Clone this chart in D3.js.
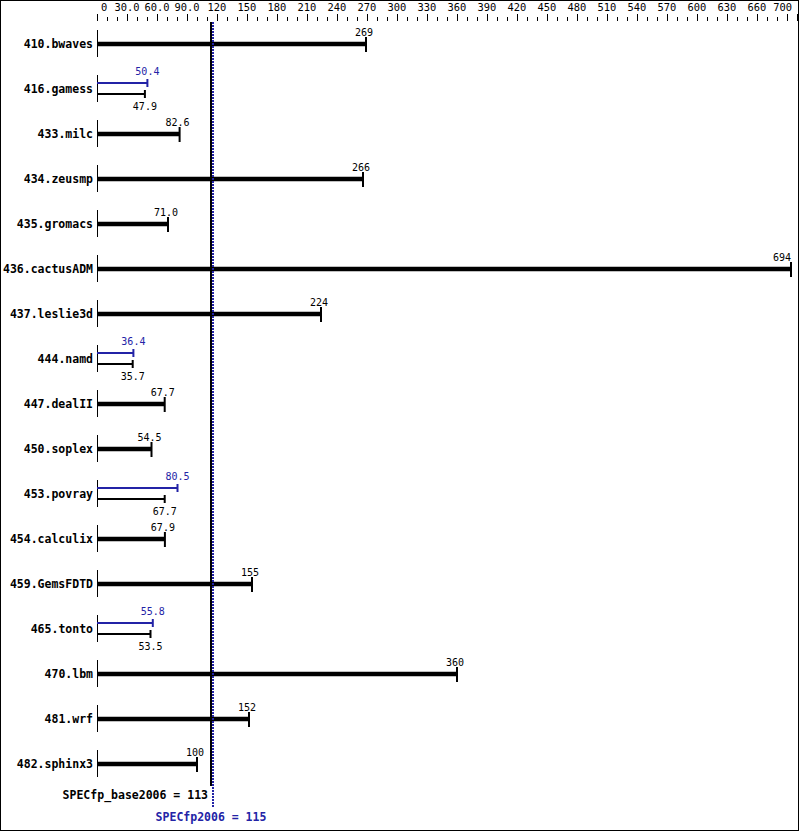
<!DOCTYPE html>
<html><head><meta charset="utf-8">
<script src="https://cdn.jsdelivr.net/npm/d3@7"></script>
<style>body{margin:0;background:#fff}</style>
</head><body>
<svg id="c" width="799" height="831"></svg>
<script>
const benchmarks = ["410.bwaves","416.gamess","433.milc","434.zeusmp","435.gromacs","436.cactusADM","437.leslie3d","444.namd","447.dealII","450.soplex","453.povray","454.calculix","459.GemsFDTD","465.tonto","470.lbm","481.wrf","482.sphinx3"];
const baseValues = [269,47.9,82.6,266,71.0,694,224,35.7,67.7,54.5,67.7,67.9,155,53.5,360,152,100];
const peakValues = [269,50.4,82.6,266,71.0,694,224,36.4,67.7,54.5,80.5,67.9,155,55.8,360,152,100];
const baseLabels = ["269","47.9","82.6","266","71.0","694","224","35.7","67.7","54.5","67.7","67.9","155","53.5","360","152","100"];
const peakLabels = ["269","50.4","82.6","266","71.0","694","224","36.4","67.7","54.5","80.5","67.9","155","55.8","360","152","100"];
const majorTicks = [0,30,60,90,120,150,180,210,240,270,300,330,360,390,420,450,480,510,540,570,600,630,660,690,700];
const tickLabelValues = [0,30,60,90,120,150,180,210,240,270,300,330,360,390,420,450,480,510,540,570,600,630,660,700];
const tickLabels = ["0","30.0","60.0","90.0","120","150","180","210","240","270","300","330","360","390","420","450","480","510","540","570","600","630","660","700"];
const specBase = 113, specPeak = 115;
const specBaseLabel = "SPECfp_base2006 = 113", specPeakLabel = "SPECfp2006 = 115";

const blue = "#2323a6";
const mono = "'DejaVu Sans Mono', monospace";
const svg = d3.select("#c");
svg.append("rect").attr("x",0.5).attr("y",0.5).attr("width",798).attr("height",830)
  .attr("fill","#fff").attr("stroke","#000");

const x = d3.scaleLinear().domain([0,700]).range([97,797]);
const y = d3.scalePoint().domain(benchmarks).range([44, 764]);
const labelX = v => Math.min(x(v) - 2, 782);

// top axis
const minor = d3.range(0, 701, 10);
svg.append("g").selectAll("line").data(minor).join("line")
  .attr("x1", d=>Math.round(x(d))+0.5).attr("x2", d=>Math.round(x(d))+0.5)
  .attr("y1", d=> majorTicks.includes(d) ? 14 : 17).attr("y2", 21)
  .attr("stroke","#000").attr("stroke-width",1);
svg.append("g").selectAll("text").data(tickLabelValues).join("text")
  .attr("x", (d,i)=> i===0 ? x(d)+4 : (d===700 ? x(d)-5 : x(d)))
  .attr("y", 11)
  .attr("text-anchor", (d,i)=> i===0 ? "start" : (d===700 ? "end" : "middle"))
  .attr("font-family", mono).attr("font-size", "10.4px").attr("fill","#000")
  .text((d,i)=>tickLabels[i]);

// rows
const g = svg.append("g");
benchmarks.forEach((b,i)=>{
  const c = y(b);
  g.append("text").attr("x",93).attr("y",c+4).attr("text-anchor","end")
    .attr("font-family",mono).attr("font-weight","bold").attr("font-size","11.5px").text(b);
  g.append("line").attr("x1",x(0)+0.5).attr("x2",x(0)+0.5).attr("y1",c-14).attr("y2",c+13)
    .attr("stroke","#000").attr("stroke-width",1);
  const bv = baseValues[i], pv = peakValues[i];
  if (bv === pv) {
    g.append("line").attr("x1",x(0)).attr("x2",x(bv)).attr("y1",c).attr("y2",c)
      .attr("stroke","#000").attr("stroke-width",4.5);
    g.append("line").attr("x1",x(bv)).attr("x2",x(bv)).attr("y1",c-7).attr("y2",c+8)
      .attr("stroke","#000").attr("stroke-width",2);
    g.append("text").attr("x",labelX(bv)).attr("y",c-8).attr("text-anchor","middle")
      .attr("font-family",mono).attr("font-size","10px").text(baseLabels[i]);
  } else {
    const py = c-6, by = c+5;
    g.append("line").attr("x1",x(0)).attr("x2",x(pv)).attr("y1",py).attr("y2",py)
      .attr("stroke",blue).attr("stroke-width",2);
    g.append("line").attr("x1",x(pv)).attr("x2",x(pv)).attr("y1",py-4).attr("y2",py+4)
      .attr("stroke",blue).attr("stroke-width",2);
    g.append("text").attr("x",x(pv)).attr("y",c-14).attr("text-anchor","middle")
      .attr("font-family",mono).attr("font-size","10px").attr("fill",blue).text(peakLabels[i]);
    g.append("line").attr("x1",x(0)).attr("x2",x(bv)).attr("y1",by).attr("y2",by)
      .attr("stroke","#000").attr("stroke-width",2);
    g.append("line").attr("x1",x(bv)).attr("x2",x(bv)).attr("y1",by-4).attr("y2",by+4)
      .attr("stroke","#000").attr("stroke-width",2);
    g.append("text").attr("x",x(bv)).attr("y",c+21).attr("text-anchor","middle")
      .attr("font-family",mono).attr("font-size","10px").text(baseLabels[i]);
  }
});

// summary lines
svg.append("line").attr("x1",x(specBase)+1).attr("x2",x(specBase)+1).attr("y1",22).attr("y2",786)
  .attr("stroke","#000").attr("stroke-width",2);
svg.append("line").attr("x1",x(specPeak)+1).attr("x2",x(specPeak)+1).attr("y1",22).attr("y2",808)
  .attr("stroke",blue).attr("stroke-width",2).attr("stroke-dasharray","2,1");
svg.append("text").attr("x",x(specBase)-2).attr("y",799).attr("text-anchor","end")
  .attr("font-family",mono).attr("font-weight","bold").attr("font-size","11.5px").text(specBaseLabel);
svg.append("text").attr("x",x(specPeak)-1).attr("y",821).attr("text-anchor","middle")
  .attr("font-family",mono).attr("font-weight","bold").attr("font-size","11.5px").attr("fill",blue).text(specPeakLabel);
</script>
</body></html>
